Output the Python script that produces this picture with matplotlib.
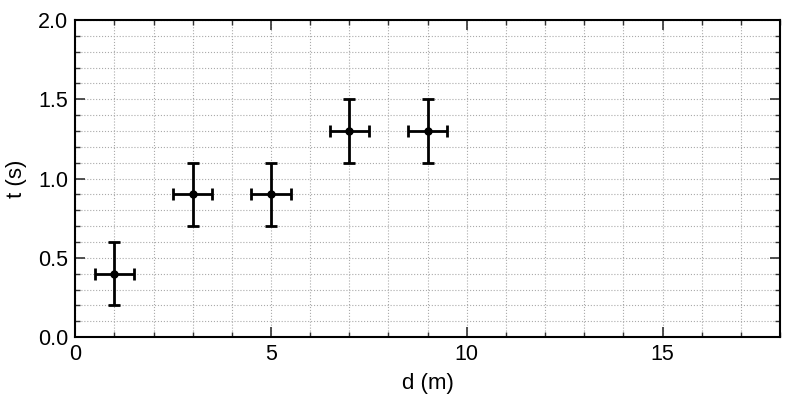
import matplotlib
matplotlib.use("Agg")
import matplotlib.pyplot as plt
from matplotlib.ticker import MultipleLocator

plt.rcParams['font.family'] = ['Liberation Sans', 'DejaVu Sans']

d = [1, 3, 5, 7, 9]
t = [0.4, 0.9, 0.9, 1.3, 1.3]
d_err = [0.5, 0.5, 0.5, 0.5, 0.5]
t_err = [0.2, 0.2, 0.2, 0.2, 0.2]

fig = plt.figure(figsize=(8, 4), dpi=100)
ax = fig.add_axes([0.094, 0.157, 0.881, 0.793])

ax.errorbar(d, t, xerr=d_err, yerr=t_err, fmt='o', color='black', ms=5,
            elinewidth=2, capsize=4, capthick=2, zorder=3)

ax.set_xlim(0, 18)
ax.set_ylim(0, 2.0)
ax.xaxis.set_major_locator(MultipleLocator(5))
ax.xaxis.set_minor_locator(MultipleLocator(1))
ax.yaxis.set_major_locator(MultipleLocator(0.5))
ax.yaxis.set_minor_locator(MultipleLocator(0.1))
ax.yaxis.set_major_formatter(matplotlib.ticker.FormatStrFormatter('%.1f'))

ax.grid(which='both', linestyle=':', color='#aaaaaa', linewidth=0.8)
ax.tick_params(which='both', direction='in', top=True, right=True, labelsize=15.5, color='#333333')
ax.tick_params(which='major', length=7, width=1.2, pad=5)
ax.tick_params(which='minor', length=3.5, width=1)
for s in ax.spines.values():
    s.set_linewidth(1.5)

ax.set_xlabel('d (m)', fontsize=16, labelpad=6)
ax.set_ylabel('t (s)', fontsize=16, labelpad=8)

fig.savefig('out.png', dpi=100)
